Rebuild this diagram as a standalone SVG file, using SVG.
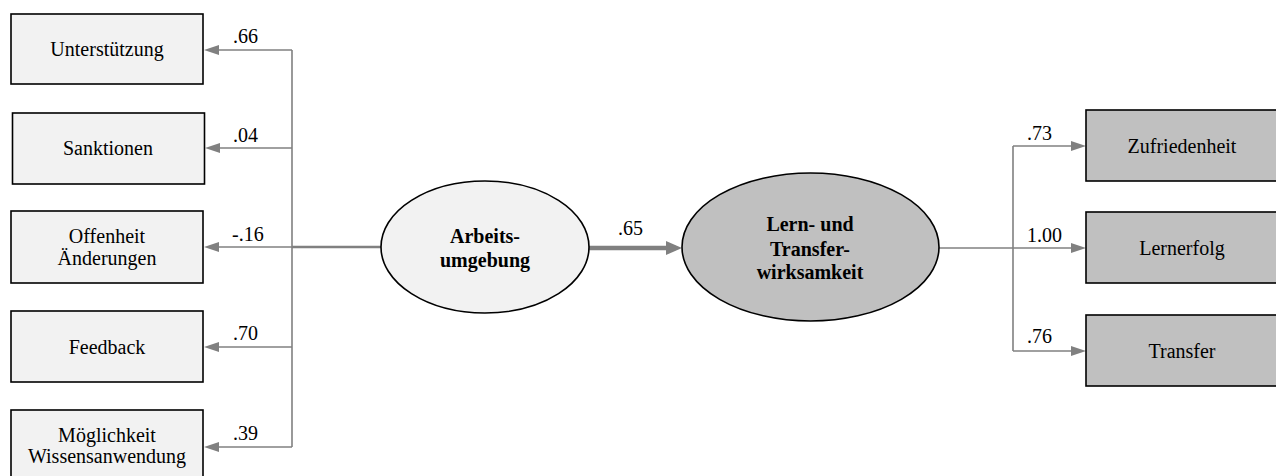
<svg xmlns="http://www.w3.org/2000/svg" width="1276" height="476" viewBox="0 0 1276 476">
<defs>
<marker id="ah" markerUnits="userSpaceOnUse" markerWidth="15" markerHeight="10" refX="9" refY="5" orient="auto"><path d="M0,0L15,5L0,10z" fill="#808080"/></marker>
<marker id="ahb" markerUnits="userSpaceOnUse" markerWidth="16" markerHeight="14" refX="10" refY="7" orient="auto"><path d="M0,0L16,7L0,14z" fill="#808080"/></marker>
</defs>
<rect width="1276" height="476" fill="#fff"/>
<g id="connectors" stroke="#808080" stroke-width="1.6" fill="none">
<path d="M292 50V447"/>
<path d="M292 50H210" marker-end="url(#ah)"/>
<path d="M292 148H211" marker-end="url(#ah)"/>
<path d="M292 247H210" marker-end="url(#ah)"/>
<path d="M292 347H210" marker-end="url(#ah)"/>
<path d="M292 447H210" marker-end="url(#ah)"/>
<path d="M292 247H381" stroke-width="2.6"/>
<path d="M589 248H676" stroke-width="4.5" marker-end="url(#ahb)"/>
<path d="M1013 146V351"/>
<path d="M939 248H1080" marker-end="url(#ah)"/>
<path d="M1013 146H1080" marker-end="url(#ah)"/>
<path d="M1013 351H1080" marker-end="url(#ah)"/>
<g stroke="none" fill="#000" font-family="Liberation Serif" font-size="20">
<text x="233" y="43">.66</text>
<text x="233" y="142">.04</text>
<text x="232" y="241">-.16</text>
<text x="233" y="340">.70</text>
<text x="233" y="440">.39</text>
<text x="618" y="235">.65</text>
<text x="1027" y="140">.73</text>
<text x="1027" y="242">1.00</text>
<text x="1027" y="343">.76</text>
</g>
</g>
<g id="unterstuetzung"><rect x="11" y="14" width="192" height="70" fill="#f2f2f2" stroke="#000" stroke-width="1.6"/><text x="107" y="56" font-family="Liberation Serif" font-size="20" text-anchor="middle">Unterstützung</text></g>
<g id="sanktionen"><rect x="12.5" y="113" width="192" height="71" fill="#f2f2f2" stroke="#000" stroke-width="1.6"/><text x="108" y="155" font-family="Liberation Serif" font-size="20" text-anchor="middle">Sanktionen</text></g>
<g id="offenheit"><rect x="11" y="211" width="192" height="72" fill="#f2f2f2" stroke="#000" stroke-width="1.6"/><text x="107" y="243" font-family="Liberation Serif" font-size="20" text-anchor="middle">Offenheit</text><text x="107" y="265" font-family="Liberation Serif" font-size="20" text-anchor="middle">Änderungen</text></g>
<g id="feedback"><rect x="11" y="311" width="192" height="71" fill="#f2f2f2" stroke="#000" stroke-width="1.6"/><text x="107" y="354" font-family="Liberation Serif" font-size="20" text-anchor="middle">Feedback</text></g>
<g id="moeglichkeit"><rect x="11" y="410" width="192" height="72" fill="#f2f2f2" stroke="#000" stroke-width="1.6"/><text x="107" y="442" font-family="Liberation Serif" font-size="20" text-anchor="middle">Möglichkeit</text><text x="107" y="463" font-family="Liberation Serif" font-size="20" text-anchor="middle">Wissensanwendung</text></g>
<g id="arbeitsumgebung"><ellipse cx="485" cy="247" rx="104" ry="66" fill="#f2f2f2" stroke="#000" stroke-width="1.6"/><text x="485" y="243" font-family="Liberation Serif" font-size="20" font-weight="bold" text-anchor="middle">Arbeits-</text><text x="485" y="267" font-family="Liberation Serif" font-size="20" font-weight="bold" text-anchor="middle">umgebung</text></g>
<g id="lerntransfer"><ellipse cx="810.5" cy="247" rx="128.5" ry="74" fill="#c0c0c0" stroke="#000" stroke-width="1.6"/><text x="810" y="231" font-family="Liberation Serif" font-size="20" font-weight="bold" text-anchor="middle">Lern- und</text><text x="810" y="256" font-family="Liberation Serif" font-size="20" font-weight="bold" text-anchor="middle">Transfer-</text><text x="810" y="279" font-family="Liberation Serif" font-size="20" font-weight="bold" text-anchor="middle">wirksamkeit</text></g>
<g id="zufriedenheit"><rect x="1086" y="110" width="192" height="71" fill="#c0c0c0" stroke="#000" stroke-width="1.6"/><text x="1182" y="153" font-family="Liberation Serif" font-size="20" text-anchor="middle">Zufriedenheit</text></g>
<g id="lernerfolg"><rect x="1086" y="212" width="192" height="71" fill="#c0c0c0" stroke="#000" stroke-width="1.6"/><text x="1182" y="255" font-family="Liberation Serif" font-size="20" text-anchor="middle">Lernerfolg</text></g>
<g id="transfer"><rect x="1086" y="315" width="192" height="71" fill="#c0c0c0" stroke="#000" stroke-width="1.6"/><text x="1182" y="358" font-family="Liberation Serif" font-size="20" text-anchor="middle">Transfer</text></g>
</svg>
